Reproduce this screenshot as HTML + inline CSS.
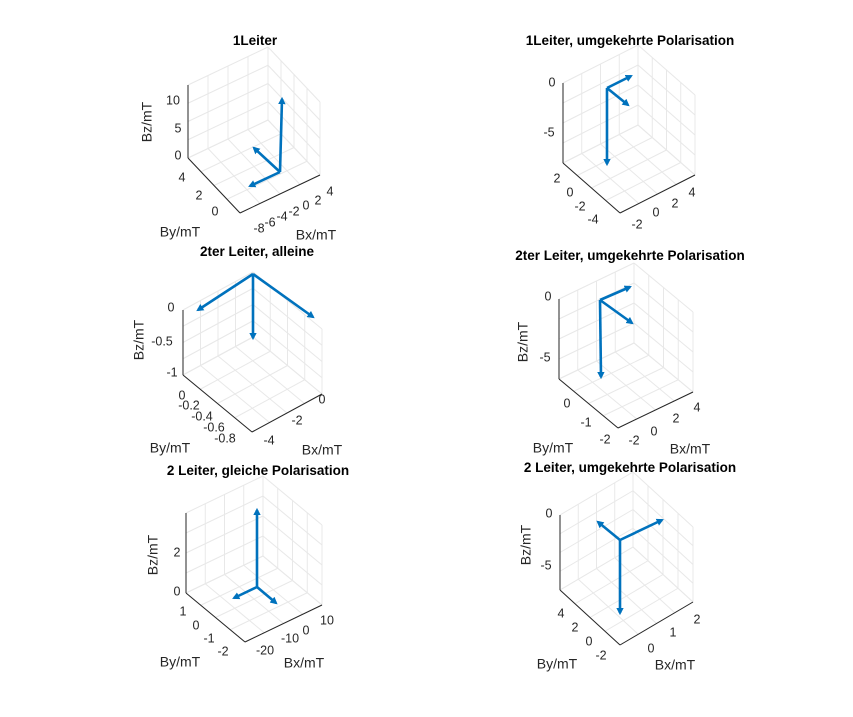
<!DOCTYPE html>
<html><head><meta charset="utf-8"><style>
html,body{margin:0;padding:0;background:#fff;}
svg{display:block;}
text{font-family:"Liberation Sans",sans-serif;fill:#262626;}
.t{font-size:13.5px;font-weight:bold;fill:#000;text-anchor:middle;}
.k{font-size:12.5px;dominant-baseline:middle;text-anchor:middle;}
.l{font-size:14px;dominant-baseline:middle;text-anchor:middle;}
.v{stroke:#0072bd;stroke-width:2.6;fill:none;marker-end:url(#ah);}
</style></head><body>
<svg id="s" width="853" height="717" viewBox="0 0 853 717" xmlns="http://www.w3.org/2000/svg">
<defs><marker id="ah" markerWidth="4" markerHeight="4" refX="2" refY="1.75" orient="auto" markerUnits="strokeWidth"><path d="M0,0.3 L2.8,1.75 L0,3.2 z" fill="#0072bd"/></marker></defs>
<g id="grid"></g>
<path class="v" d="M280,172 L282,99"/><path class="v" d="M280,172 L254,148"/><path class="v" d="M280,172 L250,186"/>
<path class="v" d="M607,88 L631,76"/><path class="v" d="M607,88 L628,105"/><path class="v" d="M607,88 L607,164"/>
<path class="v" d="M253,274 L198,310"/><path class="v" d="M253,274 L253,338"/><path class="v" d="M253,274 L313,317"/>
<path class="v" d="M600,300 L630,287"/><path class="v" d="M600,300 L632,323"/><path class="v" d="M600,300 L601,377"/>
<path class="v" d="M257,587 L257,510"/><path class="v" d="M257,587 L234,598"/><path class="v" d="M257,587 L276,603"/>
<path class="v" d="M620,540 L598,522"/><path class="v" d="M620,540 L662,520"/><path class="v" d="M620,540 L620,613"/>
<!-- P1 -->
<text class="t" x="255" y="45">1Leiter</text>
<text class="l" transform="translate(148,122) rotate(-90)">Bz/mT</text>
<text class="k" x="173" y="101">10</text><text class="k" x="178" y="129">5</text><text class="k" x="178" y="156">0</text>
<text class="k" x="182" y="178">4</text><text class="k" x="199" y="196">2</text><text class="k" x="215" y="212">0</text>
<text class="l" x="180" y="233">By/mT</text>
<text class="k" x="259" y="229">-8</text><text class="k" x="270" y="223">-6</text><text class="k" x="282" y="217">-4</text><text class="k" x="294" y="212">-2</text><text class="k" x="306" y="206">0</text><text class="k" x="318" y="201">2</text><text class="k" x="330" y="192">4</text>
<text class="l" x="316" y="236">Bx/mT</text>
<!-- P2 -->
<text class="t" x="630" y="45">1Leiter, umgekehrte Polarisation</text>
<text class="k" x="552" y="83">0</text><text class="k" x="549" y="133">-5</text>
<text class="k" x="557" y="179">2</text><text class="k" x="570" y="193">0</text><text class="k" x="580" y="207">-2</text><text class="k" x="593" y="220">-4</text>
<text class="k" x="637" y="225">-2</text><text class="k" x="656" y="213">0</text><text class="k" x="675" y="204">2</text><text class="k" x="692" y="193">4</text>
<!-- P3 -->
<text class="t" x="257" y="256">2ter Leiter, alleine</text>
<text class="l" transform="translate(140,340) rotate(-90)">Bz/mT</text>
<text class="k" x="171" y="308">0</text><text class="k" x="162" y="342">-0.5</text><text class="k" x="172" y="373">-1</text>
<text class="k" x="182" y="396">0</text><text class="k" x="189" y="406">-0.2</text><text class="k" x="202" y="417">-0.4</text><text class="k" x="214" y="428">-0.6</text><text class="k" x="225" y="439">-0.8</text>
<text class="l" x="170" y="449">By/mT</text>
<text class="k" x="322" y="400">0</text><text class="k" x="297" y="421">-2</text><text class="k" x="269" y="441">-4</text>
<text class="l" x="322" y="451">Bx/mT</text>
<!-- P4 -->
<text class="t" x="630" y="260">2ter Leiter, umgekehrte Polarisation</text>
<text class="l" transform="translate(524,342) rotate(-90)">Bz/mT</text>
<text class="k" x="548" y="297">0</text><text class="k" x="545" y="358">-5</text>
<text class="k" x="567" y="404">0</text><text class="k" x="586" y="423">-1</text><text class="k" x="605" y="440">-2</text>
<text class="l" x="553" y="449">By/mT</text>
<text class="k" x="634" y="441">-2</text><text class="k" x="654" y="432">0</text><text class="k" x="676" y="419">2</text><text class="k" x="697" y="408">4</text>
<text class="l" x="690" y="450">Bx/mT</text>
<!-- P5 -->
<text class="t" x="258" y="475">2 Leiter, gleiche Polarisation</text>
<text class="l" transform="translate(154,555) rotate(-90)">Bz/mT</text>
<text class="k" x="177" y="553">2</text><text class="k" x="177" y="592">0</text>
<text class="k" x="183" y="612">1</text><text class="k" x="196" y="626">0</text><text class="k" x="209" y="639">-1</text><text class="k" x="223" y="652">-2</text>
<text class="l" x="180" y="663">By/mT</text>
<text class="k" x="265" y="651">-20</text><text class="k" x="290" y="639">-10</text><text class="k" x="306" y="631">0</text><text class="k" x="327" y="621">10</text>
<text class="l" x="304" y="664">Bx/mT</text>
<!-- P6 -->
<text class="t" x="630" y="472">2 Leiter, umgekehrte Polarisation</text>
<text class="l" transform="translate(527,545) rotate(-90)">Bz/mT</text>
<text class="k" x="549" y="514">0</text><text class="k" x="546" y="566">-5</text>
<text class="k" x="561" y="614">4</text><text class="k" x="575" y="628">2</text><text class="k" x="589" y="642">0</text><text class="k" x="601" y="656">-2</text>
<text class="l" x="557" y="665">By/mT</text>
<text class="k" x="651" y="649">0</text><text class="k" x="673" y="633">1</text><text class="k" x="697" y="620">2</text>
<text class="l" x="675" y="666">Bx/mT</text>
</svg>
<script>
const P=[[188,158,52,55,80,-38,73],[563,163,57,50,75,-38,80],[183,375,69,57,70,-38,65],[559,379,59,49,75,-36,80],[186,593,59,49,77,-37,80],[560,590,60,55,73,-43,75]];
let h='';const n=4;
function L(a,b,c,d,col,w){h+=`<line x1="${a}" y1="${b}" x2="${c}" y2="${d}" stroke="${col}" stroke-width="${w}"/>`;}
const G='#e8e8e8';
for(const [x,y,ux,uy,vx,vy,H] of P){
 for(let i=0;i<=n;i++){const t=i/n;
  L(x+vx*t,y+vy*t,x+vx*t,y+vy*t-H,G,1);
  L(x+vx+ux*t,y+vy+uy*t,x+vx+ux*t,y+vy+uy*t-H,G,1);
  const z=-H*t;
  L(x,y+z,x+vx,y+vy+z,G,1);L(x+vx,y+vy+z,x+vx+ux,y+vy+uy+z,G,1);
  L(x+ux*t,y+uy*t,x+ux*t+vx,y+uy*t+vy,G,1);
  L(x+vx*t,y+vy*t,x+vx*t+ux,y+vy*t+uy,G,1);
 }
 const K='#262626';
 L(x,y-H,x,y,K,1);L(x,y,x+ux,y+uy,K,1);L(x+ux,y+uy,x+ux+vx,y+uy+vy,K,1);
}
document.getElementById('grid').innerHTML=h;
</script>
</body></html>
